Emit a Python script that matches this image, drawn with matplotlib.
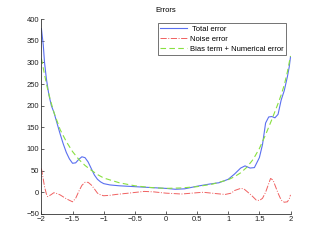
import matplotlib
matplotlib.use('Agg')
import matplotlib.pyplot as plt

plt.rcParams['font.family'] = ['Liberation Sans', 'DejaVu Sans']

# x positions
x_total = [-2.0, -1.97, -1.95, -1.92, -1.88, -1.84, -1.8, -1.75, -1.7, -1.65, -1.6, -1.55,
           -1.5, -1.45, -1.4, -1.35, -1.3, -1.25, -1.2, -1.15, -1.1, -1.05, -1.0, -0.9,
           -0.75, -0.5, -0.25, 0.0, 0.15, 0.3, 0.5, 0.7, 0.85, 1.0, 1.1, 1.2, 1.27,
           1.35, 1.42, 1.5, 1.55, 1.6, 1.65, 1.7, 1.75, 1.8, 1.85, 1.9, 1.95, 1.98, 2.0]
total = [378, 340, 300, 262, 225, 200, 185, 160, 135, 112, 92, 77,
         67, 68, 76, 82, 80, 70, 55, 40, 30, 24, 20, 17,
         15, 13, 11, 9, 7, 8, 14, 19, 22, 30, 42, 56, 61,
         56, 57, 80, 110, 160, 174, 175, 172, 180, 213, 235, 267, 290, 313]

x_bias = [-2.0, -1.95, -1.9, -1.85, -1.8, -1.75, -1.7, -1.6, -1.5, -1.4, -1.3, -1.2,
          -1.1, -1.0, -0.75, -0.5, -0.25, 0.0, 0.25, 0.5, 0.75, 1.0, 1.1, 1.2,
          1.3, 1.4, 1.5, 1.6, 1.7, 1.8, 1.85, 1.9, 1.95, 2.0]
bias = [309, 272, 238, 210, 185, 165, 145, 117, 94, 76, 62, 51,
        41, 33, 22, 15, 11, 9, 10, 13, 19, 29, 36, 45,
        58, 76, 101, 133, 168, 205, 225, 248, 278, 315]

x_noise = [-2.0, -1.97, -1.95, -1.92, -1.9, -1.85, -1.8, -1.75, -1.7, -1.6, -1.5, -1.45,
           -1.4, -1.35, -1.3, -1.25, -1.2, -1.15, -1.1, -1.05, -1.0, -0.9, -0.8, -0.6,
           -0.35, -0.2, 0.0, 0.25, 0.5, 0.6, 0.8, 0.95, 1.05, 1.1, 1.2, 1.25, 1.3,
           1.38, 1.45, 1.5, 1.55, 1.6, 1.65, 1.68, 1.72, 1.76, 1.8, 1.85, 1.9, 1.95, 1.98, 2.0]
noise = [55, 30, 13, -4, -10, -6, -1, -3, -6, -15, -22, -14,
         2, 16, 23, 23, 17, 8, -2, -6, -8, -7, -5, -2,
         2, 1, -2, -4, -1, 0, -3, -5, -2, 4, 9, 8, 2,
         -8, -18, -19, -14, 0, 20, 32, 28, 13, -2, -18, -23, -22, -15, -6]

fig = plt.figure(figsize=(3.21, 2.42), dpi=100)
ax = fig.add_axes([0.129, 0.116, 0.776, 0.805])

ax.plot(x_total, total, color='#5a6ff0', lw=0.8, label=' Total error')
ax.plot(x_noise, noise, color='#f06060', lw=0.7, ls='-.', label='Noise error')
ax.plot(x_bias, bias, color='#88e040', lw=0.8, ls=(0, (5, 3)), label='Bias term + Numerical error')

ax.set_xlim(-2, 2)
ax.set_ylim(-50, 400)
ax.set_xticks([-2, -1.5, -1, -0.5, 0, 0.5, 1, 1.5, 2])
ax.set_xticklabels(['\u22122', '\u22121.5', '\u22121', '\u22120.5', '0', '0.5', '1', '1.5', '2'])
ax.set_yticks(range(-50, 401, 50))
ax.set_yticklabels(['\u221250'] + [str(v) for v in range(0, 401, 50)])
ax.tick_params(direction='in', length=2.5, width=0.5, labelsize=5.5, pad=1.5, colors='#222222')
for s in ['top', 'right']:
    ax.spines[s].set_visible(False)
for s in ['left', 'bottom']:
    ax.spines[s].set_linewidth(0.6)
    ax.spines[s].set_color('#333333')

ax.set_title('Errors', fontsize=5.5, pad=5)
leg = ax.legend(loc='upper right', fontsize=5.5, frameon=True, fancybox=False,
                handlelength=3.5, handletextpad=0.4, borderpad=0.3, labelspacing=0.35,
                borderaxespad=0.3, bbox_to_anchor=(0.99, 0.99))
leg.get_frame().set_edgecolor('#333333')
leg.get_frame().set_linewidth(0.6)

fig.savefig('out.png', dpi=100)
